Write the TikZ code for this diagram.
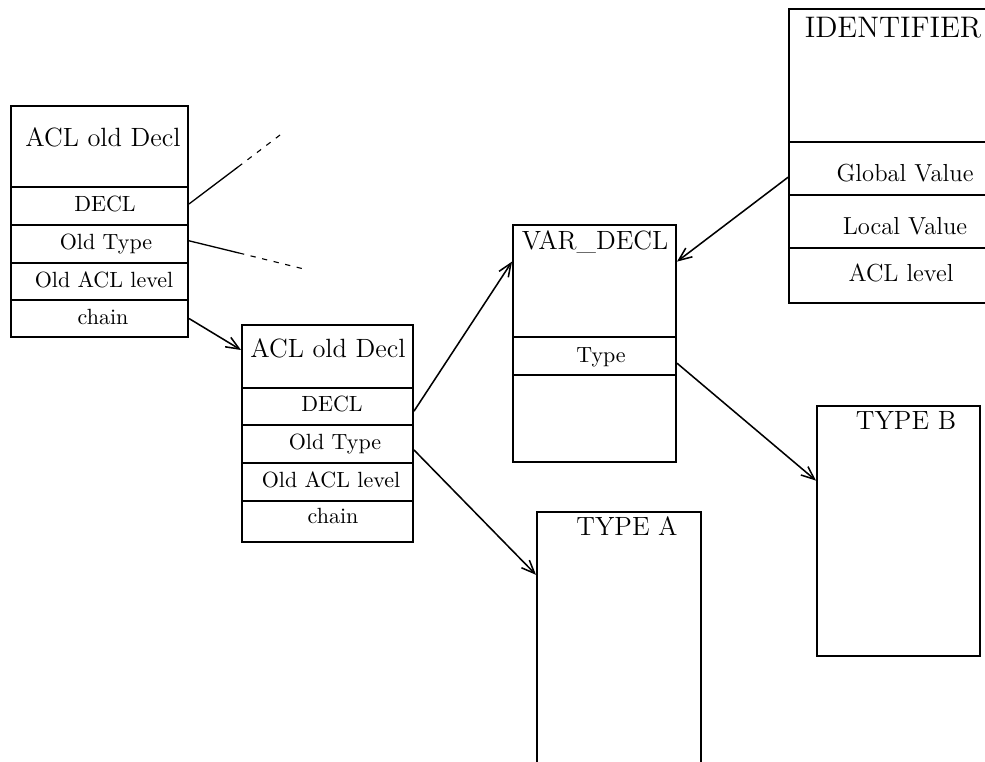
\documentclass[tikz,border=0pt]{standalone}
\usetikzlibrary{arrows.meta,fit,calc}
\begin{document}
\begin{tikzpicture}[x=0.4545pt,y=-0.4545pt,
  box/.style={draw, line width=0.9pt, inner sep=0pt},
  lbl/.style={anchor=base, inner sep=0pt, font=\normalsize},
  hd/.style={anchor=base, inner sep=0pt, font=\large},
  idlbl/.style={anchor=base, inner sep=0pt, font=\fontsize{11.2}{13}\selectfont},
  idhd/.style={anchor=base, inner sep=0pt, font=\fontsize{13.5}{16}\selectfont},
  conn/.style={line width=0.7pt, -{Straight Barb[length=6pt,width=5pt]}},
  solidpart/.style={line width=0.6pt},
  dashpart/.style={line width=0.5pt, dash pattern=on 2.4pt off 3pt}]
\useasboundingbox (0,0) rectangle (985,762);

% Box 1: ACL old Decl (left)
\node[box, fit={(11,106) (188,187)}] (b1head) {};
\node[box, fit={(11,187) (188,225)}] (b1decl) {};
\node[box, fit={(11,225) (188,263)}] (b1type) {};
\node[box, fit={(11,263) (188,300)}] (b1level) {};
\node[box, fit={(11,300) (188,337)}] (b1chain) {};
\node[hd] (b1headt) at (103,147) {ACL old Decl};
\node[lbl] (b1declt) at (105,212) {DECL};
\node[lbl] (b1typet) at (106,250) {Old Type};
\node[lbl] (b1levelt) at (104,288) {Old ACL level};
\node[lbl] (b1chaint) at (103,325) {chain};

% Box 2: ACL old Decl (middle)
\node[box, fit={(242,325) (413,388)}] (b2head) {};
\node[box, fit={(242,388) (413,425)}] (b2decl) {};
\node[box, fit={(242,425) (413,463)}] (b2type) {};
\node[box, fit={(242,463) (413,501)}] (b2level) {};
\node[box, fit={(242,501) (413,542)}] (b2chain) {};
\node[hd] (b2headt) at (328,358) {ACL old Decl};
\node[lbl] (b2declt) at (332,412) {DECL};
\node[lbl] (b2typet) at (335,450) {Old Type};
\node[lbl] (b2levelt) at (331,488) {Old ACL level};
\node[lbl] (b2chaint) at (333,524) {chain};

% VAR_DECL
\node[box, fit={(513,225) (676,337)}] (vdhead) {};
\node[box, fit={(513,337) (676,375)}] (vdtype) {};
\node[box, fit={(513,375) (676,462)}] (vdrest) {};
\node[hd] (vdheadt) at (595,250) {VAR\_DECL};
\node[lbl] (vdtypet) at (601,363) {Type};

% IDENTIFIER
\node[box, fit={(789,9) (1021,142)}] (idhead) {};
\node[box, fit={(789,142) (1021,195)}] (idglobal) {};
\node[box, fit={(789,195) (1021,248)}] (idlocal) {};
\node[box, fit={(789,248) (1021,303)}] (idlevel) {};
\node[idhd] (idheadt) at (893,38) {IDENTIFIER};
\node[idlbl] (idglobalt) at (905,182) {Global Value};
\node[idlbl] (idlocalt) at (905,235) {Local Value};
\node[idlbl] (idlevelt) at (901,282) {ACL level};

% TYPE A, TYPE B
\node[box, fit={(537,512) (701,800)}] (typea) {};
\node[hd] (typeat) at (627,536) {TYPE A};
\node[box, fit={(817,406) (980,656)}] (typeb) {};
\node[hd] (typebt) at (906,430) {TYPE B};

% dangling dashed lines from box 1
\coordinate (d1a) at (238,167);
\coordinate (d1b) at (284,132);
\coordinate (d2a) at (239,253);
\coordinate (d2b) at (308,270);
\draw[solidpart] ($(b1decl.north east)!0.45!(b1decl.south east)$) -- (d1a);
\draw[dashpart] (d1a) -- (d1b);
\draw[solidpart] ($(b1type.north east)!0.42!(b1type.south east)$) -- (d2a);
\draw[dashpart] (d2a) -- (d2b);

% connectors
\draw[conn] (b1chain.east) -- ($(b2head.north west)!0.4!(b2head.south west)$);
\draw[conn] ($(b2decl.north east)!0.62!(b2decl.south east)$) -- ($(vdhead.north west)!0.33!(vdhead.south west)$);
\draw[conn] ($(idglobal.north west)!0.66!(idglobal.south west)$) -- ($(vdhead.north east)!0.33!(vdhead.south east)$);
\draw[conn] ($(b2type.north east)!0.65!(b2type.south east)$) -- ($(typea.north west)!0.22!(typea.south west)$);
\draw[conn] ($(vdtype.north east)!0.68!(vdtype.south east)$) -- ($(typeb.north west)!0.3!(typeb.south west)$);
\end{tikzpicture}
\end{document}
